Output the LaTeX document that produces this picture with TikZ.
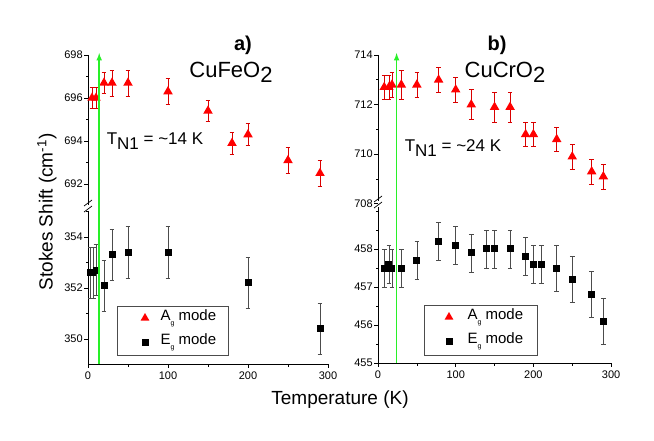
\documentclass[tikz,border=0pt]{standalone}
\usepackage{fontspec}
\setmainfont{Liberation Sans}
\usetikzlibrary{shapes.geometric}
\definecolor{lgreen}{RGB}{40,240,40}
\begin{document}
\begin{tikzpicture}[x=1pt,y=-1pt,
  ax/.style={line width=0.9pt,black},
  tick/.style={line width=0.7pt,black},
  tl/.style={font=\fontsize{11}{12}\selectfont,inner sep=1pt},
  ebr/.style={red!85!black,line width=0.6pt},
  ebk/.style={black!70,line width=0.6pt},
  tri/.style={fill=red,draw=none,regular polygon,regular polygon sides=3,minimum size=11pt,inner sep=0pt},
  sq/.style={fill=black,draw=none,minimum size=7pt,inner sep=0pt},
  lgt/.style={anchor=west,font=\fontsize{15}{16}\selectfont},
  ttl/.style={font=\fontsize{22}{24}\selectfont},
  glin/.style={lgreen,line width=1.5pt,-latex}]
\useasboundingbox (0,0) rectangle (654,441);
% ---------------- axes ----------------
\draw[ax] (88,55) -- (88,205);
\draw[ax] (88,211) -- (88,364) -- (328,364);
\draw[tick] (84,206) -- (92,200) (84,212) -- (92,206);
\draw[ax] (378,55) -- (378,201);
\draw[ax] (378,207) -- (378,363) -- (611,363);
\draw[tick] (374,202) -- (382,196) (374,208) -- (382,202);
% left upper
\begin{scope}[shift={(88,55)},x=0.8pt,y=21.5pt]
\foreach \v in {692,694,696,698}{\draw[tick] (0,\v-698) -- ++(-4pt,0) node[tl,left] {\v};}
\foreach \v in {693,695,697}{\draw[tick] (0,\v-698) -- ++(-2.5pt,0);}
\foreach \t/\v/\e in {5/696.0/0.5,10/696.0/0.5,20/696.7/0.5,30/696.7/0.6,50/696.7/0.6,100/696.3/0.6,150/695.4/0.5,180/693.9/0.5,200/694.3/0.5,250/693.1/0.6,290/692.5/0.6}{
  \draw[ebr] (\t,\v-698-\e) -- (\t,\v-698+\e) (\t-3,\v-698-\e) -- (\t+3,\v-698-\e) (\t-3,\v-698+\e) -- (\t+3,\v-698+\e);
  \node[tri] (la\t) at (\t,\v-698) {};}
\end{scope}
% left lower
\begin{scope}[shift={(88,237)},x=0.8pt,y=25.5pt]
\foreach \v in {350,352,354}{\draw[tick] (0,\v-354) -- ++(-4pt,0) node[tl,left] {\v};}
\foreach \v in {351,353,355}{\draw[tick] (0,\v-354) -- ++(-2.5pt,0);}
\foreach \t/\v/\e in {3/352.6/1.0,7/352.6/1.0,10/352.7/1.0,20/352.1/1.0,30/353.3/1.0,50/353.4/1.0,100/353.4/1.0,200/352.2/1.0,290/350.4/1.0}{
  \draw[ebk] (\t,\v-354-\e) -- (\t,\v-354+\e) (\t-3,\v-354-\e) -- (\t+3,\v-354-\e) (\t-3,\v-354+\e) -- (\t+3,\v-354+\e);
  \node[sq] (le\t) at (\t,\v-354) {};}
\end{scope}
\begin{scope}[shift={(88,364)},x=0.8pt]
\foreach \t in {0,100,200,300}{\draw[tick] (\t,0) -- ++(0,4) node[tl,below=2pt] {\t};}
\foreach \t in {50,150,250}{\draw[tick] (\t,0) -- ++(0,2.5);}
\end{scope}
% right upper
\begin{scope}[shift={(378,55)},x=0.777pt,y=24.8pt]
\foreach \v in {708,710,712,714}{\draw[tick] (0,\v-714) -- ++(-4pt,0) node[tl,left] {\v};}
\foreach \v in {709,711,713}{\draw[tick] (0,\v-714) -- ++(-2.5pt,0);}
\foreach \t/\v/\e in {8/712.7/0.5,14/712.7/0.5,18/712.8/0.5,30/712.8/0.6,50/712.8/0.5,78/713.0/0.5,100/712.6/0.5,120/712.0/0.6,150/711.9/0.6,170/711.9/0.6,190/710.8/0.5,200/710.8/0.5,230/710.6/0.5,250/709.9/0.5,275/709.3/0.5,290/709.1/0.5}{
  \draw[ebr] (\t,\v-714-\e) -- (\t,\v-714+\e) (\t-3,\v-714-\e) -- (\t+3,\v-714-\e) (\t-3,\v-714+\e) -- (\t+3,\v-714+\e);
  \node[tri] (ra\t) at (\t,\v-714) {};}
\end{scope}
% right lower
\begin{scope}[shift={(378,249)},x=0.777pt,y=38pt]
\foreach \v in {455,456,457,458}{\draw[tick] (0,\v-458) -- ++(-4pt,0) node[tl,left] {\v};}
\foreach \v in {455.5,456.5,457.5,458.5,459}{\draw[tick] (0,\v-458) -- ++(-2.5pt,0);}
\foreach \t/\v/\e in {8/457.5/0.5,14/457.6/0.5,18/457.5/0.5,30/457.5/0.5,50/457.7/0.5,78/458.2/0.5,100/458.1/0.5,120/457.9/0.5,140/458.0/0.5,150/458.0/0.5,170/458.0/0.5,190/457.8/0.5,200/457.6/0.5,210/457.6/0.5,230/457.5/0.6,250/457.2/0.6,275/456.8/0.6,290/456.1/0.6}{
  \draw[ebk] (\t,\v-458-\e) -- (\t,\v-458+\e) (\t-3,\v-458-\e) -- (\t+3,\v-458-\e) (\t-3,\v-458+\e) -- (\t+3,\v-458+\e);
  \node[sq] (re\t) at (\t,\v-458) {};}
\end{scope}
\begin{scope}[shift={(378,363)},x=0.777pt]
\foreach \t in {0,100,200,300}{\draw[tick] (\t,0) -- ++(0,4) node[tl,below=2pt] {\t};}
\foreach \t in {50,150,250}{\draw[tick] (\t,0) -- ++(0,2.5);}
\end{scope}
% green T_N lines
\coordinate (g1b) at (99.2,364);
\coordinate (g1t) at (99.2,53);
\coordinate (g2b) at (396.6,363);
\coordinate (g2t) at (396.6,53);
\draw[glin] (g1b) -- (g1t);
\draw[glin] (g2b) -- (g2t);
% legends
\draw[black!70,line width=0.6pt,fill=white] (117,306) rectangle (228,355);
\node[tri,minimum size=10pt] (lgl1) at (145,318) {};
\node[sq] (lgl2) at (145,342) {};
\node[lgt] (lgt1) at (157,318) {A\raisebox{-5pt}{\fontsize{7}{7}\selectfont g} mode};
\node[lgt] (lgt2) at (157,342) {E\raisebox{-5pt}{\fontsize{7}{7}\selectfont g} mode};
\draw[black!70,line width=0.6pt,fill=white] (424,305) rectangle (537,355);
\node[tri,minimum size=10pt] (rgl1) at (449,317) {};
\node[sq] (rgl2) at (449,341) {};
\node[lgt] (rgt1) at (464,317) {A\raisebox{-5pt}{\fontsize{7}{7}\selectfont g} mode};
\node[lgt] (rgt2) at (464,341) {E\raisebox{-5pt}{\fontsize{7}{7}\selectfont g} mode};
% titles
\node[font=\fontsize{20}{22}\selectfont\bfseries] (ta) at (243,45) {a)};
\node[ttl] (tca) at (231,72) {CuFeO\raisebox{-5pt}{2}};
\node[font=\fontsize{20}{22}\selectfont\bfseries] (tb) at (497,45) {b)};
\node[ttl] (tcb) at (505,72) {CuCrO\raisebox{-5pt}{2}};
\node[font=\fontsize{17}{18}\selectfont] (tn1) at (155,141) {T\raisebox{-5pt}{N1} = \textasciitilde14 K};
\node[font=\fontsize{17}{18}\selectfont] (tn2) at (453,148) {T\raisebox{-5pt}{N1} = \textasciitilde24 K};
\node[rotate=90,font=\fontsize{19}{20}\selectfont] (yl) at (47,212) {Stokes Shift (cm\textsuperscript{-1})};
\node[font=\fontsize{19}{20}\selectfont] (xl) at (340,400) {Temperature (K)};
\end{tikzpicture}
\end{document}
